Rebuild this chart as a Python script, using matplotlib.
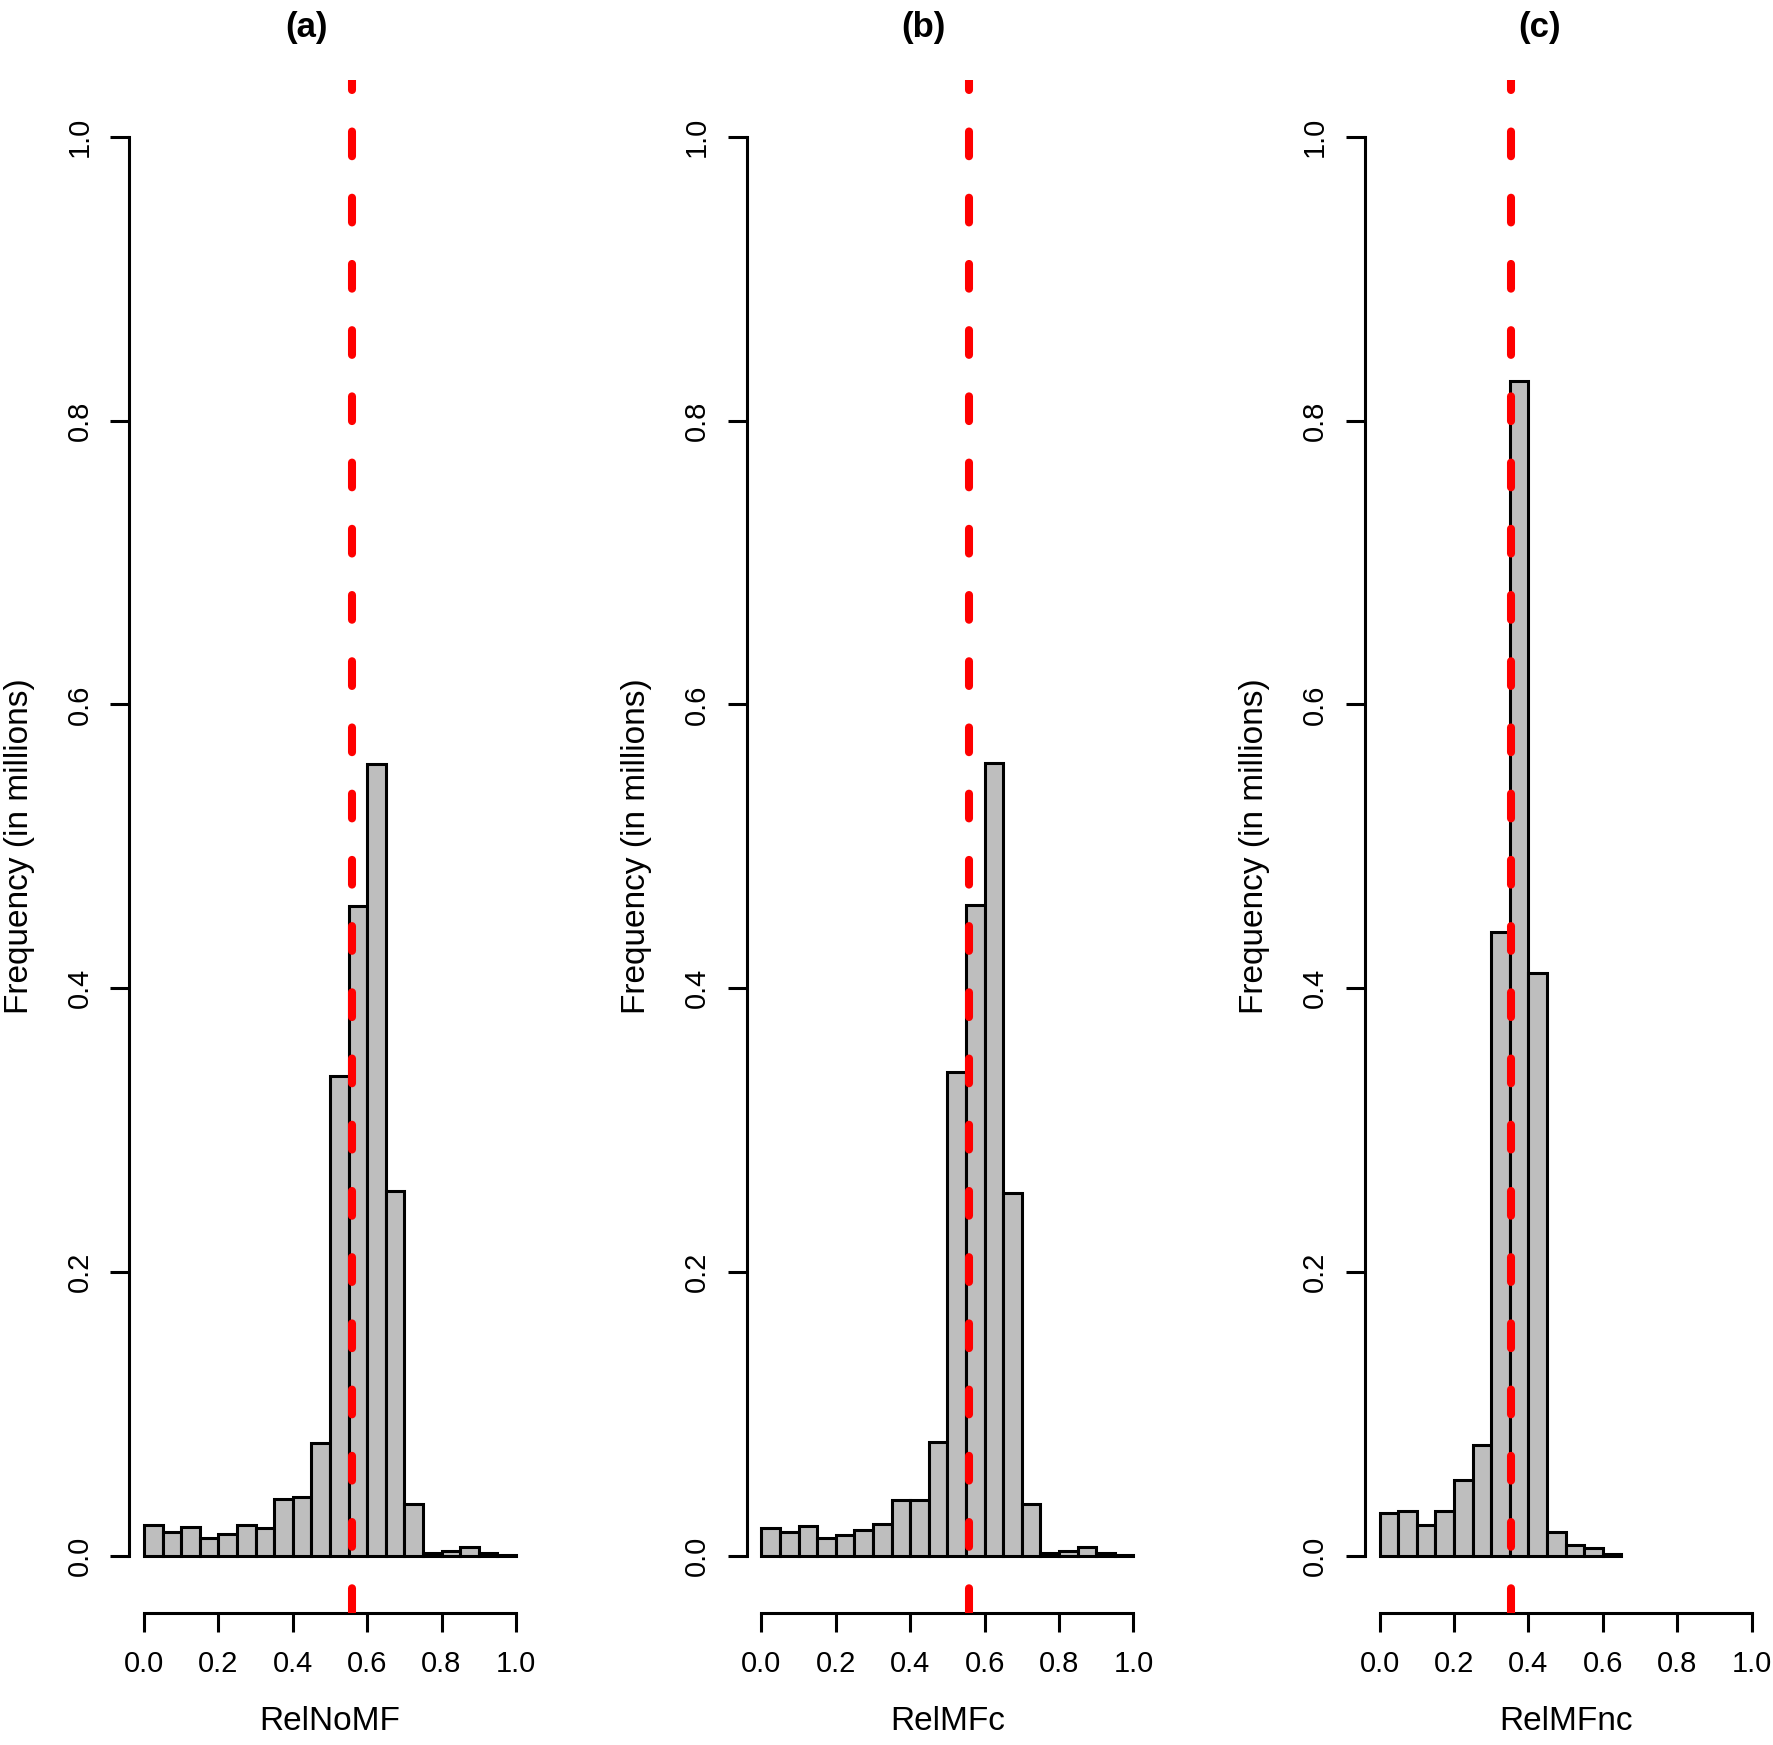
import numpy as np
import matplotlib
matplotlib.use('Agg')
import matplotlib.pyplot as plt

plt.rcParams['font.family'] = ['Liberation Sans', 'DejaVu Sans']

# bar heights (millions), bins of width 0.05 starting at 0
rel_nomf = [0.0216, 0.0169, 0.0207, 0.0125, 0.0153, 0.0216, 0.0200, 0.0400, 0.0420, 0.0795,
            0.338, 0.458, 0.558, 0.257, 0.0367, 0.0020, 0.0033, 0.0066, 0.0020, 0.0010]
rel_mfc = [0.0197, 0.0169, 0.0209, 0.0129, 0.0148, 0.0183, 0.0228, 0.0397, 0.0397, 0.0806,
           0.341, 0.459, 0.559, 0.256, 0.0364, 0.0020, 0.0035, 0.0066, 0.0020, 0.0010]
rel_mfnc = [0.0306, 0.0317, 0.0216, 0.0317, 0.0536, 0.078, 0.4395, 0.828, 0.411,
            0.0169, 0.0075, 0.0056, 0.0012]
means = [0.559, 0.559, 0.354]
xlabels = ['RelNoMF', 'RelMFc', 'RelMFnc']
titles = ['(a)', '(b)', '(c)']
bin_width = 0.05
ticks = [0.0, 0.2, 0.4, 0.6, 0.8, 1.0]

lefts = [0.0728, 0.4211, 0.7697]
title_x = [0.1726, 0.521, 0.8686]
series = [rel_nomf, rel_mfc, rel_mfnc]

fig = plt.figure(figsize=(17.73, 17.45), dpi=100)

for i in range(3):
    ax = fig.add_axes([lefts[i], 0.0757, 0.2266, 0.8785])
    h = series[i]
    edges = np.arange(len(h)) * bin_width
    ax.bar(edges, h, width=bin_width, align='edge', color='#BEBEBE',
           edgecolor='black', linewidth=2.2, zorder=2)
    ax.axvline(means[i], color='red', linewidth=5.8, dashes=(3.07, 5.15),
               dash_capstyle='round', zorder=3)

    ax.set_xlim(-0.04, 1.04)
    ax.set_ylim(-0.04, 1.04)
    for s in ['top', 'right']:
        ax.spines[s].set_visible(False)
    ax.spines['left'].set_bounds(0, 1)
    ax.spines['bottom'].set_bounds(0, 1)
    ax.spines['left'].set_linewidth(2.2)
    ax.spines['bottom'].set_linewidth(2.2)

    ax.set_xticks(ticks)
    ax.set_yticks(ticks)
    ax.set_xticklabels([f'{t:.1f}' for t in ticks])
    ax.set_yticklabels([f'{t:.1f}' for t in ticks], rotation=90, va='center')
    ax.tick_params(axis='both', length=13.7, width=2.2, labelsize=21)
    ax.tick_params(axis='x', pad=13)
    ax.tick_params(axis='y', pad=12)

    ax.text(-0.2738, 0.5, 'Frequency (in millions)', transform=ax.transAxes,
            rotation=90, ha='center', va='center', fontsize=24)
    ax.text(0.5, -0.0711, xlabels[i], transform=ax.transAxes,
            ha='center', va='center', fontsize=24)

    fig.text(title_x[i], 0.984, titles[i], ha='center', va='center',
             fontsize=25, fontweight='bold')

fig.savefig('out.png', dpi=100)
